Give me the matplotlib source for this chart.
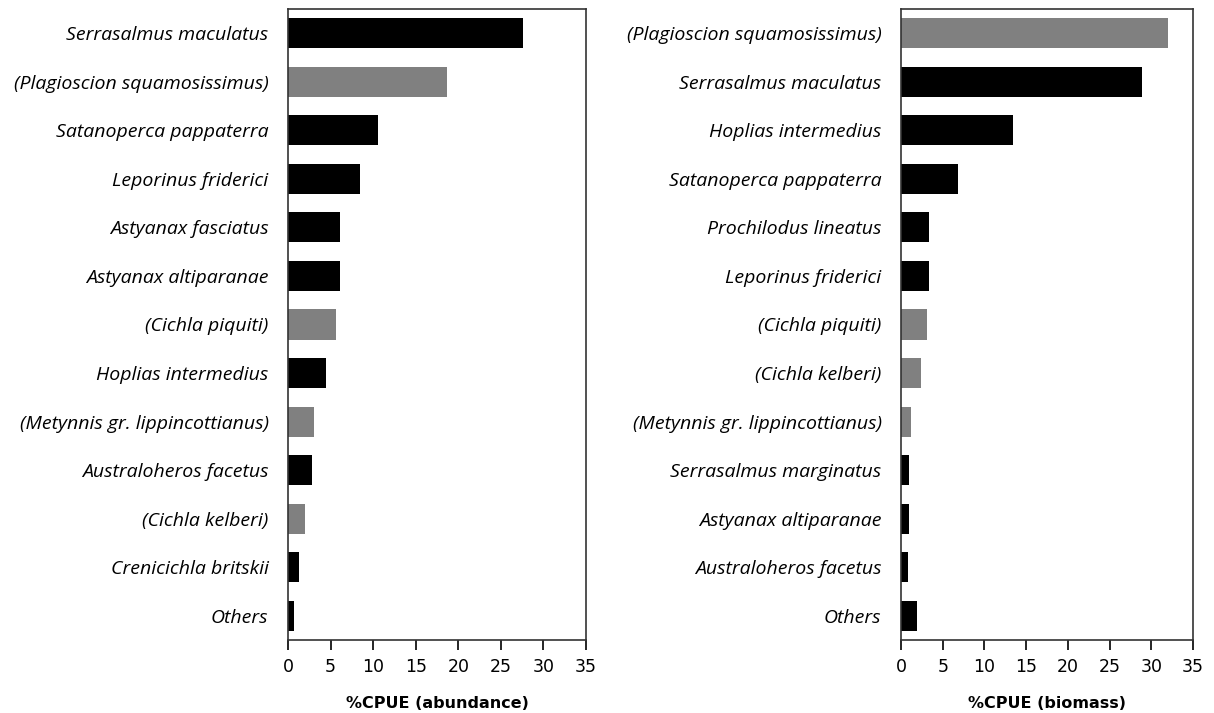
import matplotlib
import matplotlib.pyplot as plt

matplotlib.use("Agg")

BLACK = "#000000"
GREY = "#808080"

# Abundance panel (top to bottom)
abund_species = [
    "Serrasalmus maculatus", "(Plagioscion squamosissimus)", "Satanoperca pappaterra",
    "Leporinus friderici", "Astyanax fasciatus", "Astyanax altiparanae",
    "(Cichla piquiti)", "Hoplias intermedius", "(Metynnis gr. lippincottianus)",
    "Australoheros facetus", "(Cichla kelberi)", "Crenicichla britskii", "Others",
]
abund_values = [27.6, 18.7, 10.6, 8.5, 6.1, 6.1, 5.6, 4.5, 3.0, 2.8, 2.0, 1.3, 0.7]

# Biomass panel (top to bottom)
biom_species = [
    "(Plagioscion squamosissimus)", "Serrasalmus maculatus", "Hoplias intermedius",
    "Satanoperca pappaterra", "Prochilodus lineatus", "Leporinus friderici",
    "(Cichla piquiti)", "(Cichla kelberi)", "(Metynnis gr. lippincottianus)",
    "Serrasalmus marginatus", "Astyanax altiparanae", "Australoheros facetus", "Others",
]
biom_values = [32.0, 28.9, 13.4, 6.8, 3.4, 3.4, 3.1, 2.4, 1.2, 1.0, 0.9, 0.8, 1.9]

x_ticks = [0, 5, 10, 15, 20, 25, 30, 35]


def draw_panel(ax, species, values, xlabel):
    colors = [GREY if s.startswith("(") else BLACK for s in species]
    y = list(range(len(species)))
    ax.barh(y, values, height=0.62, color=colors)
    ax.set_ylim(len(species) - 0.5, -0.5)
    ax.set_xlim(0, 35)
    ax.set_xticks(x_ticks)
    ax.set_xticklabels([str(t) for t in x_ticks], fontsize=12.5, family="DejaVu Sans")
    ax.set_yticks(y)
    ax.set_yticklabels(species, fontsize=14, style="italic", family="Open Sans")
    ax.tick_params(axis="y", length=0, pad=14)
    ax.tick_params(axis="x", direction="out", length=7, width=1.2, pad=6)
    ax.set_xlabel(xlabel, fontsize=11.5, fontweight="bold", family="DejaVu Sans", labelpad=14)
    for sp in ax.spines.values():
        sp.set_linewidth(1.2)
        sp.set_color("#333333")


fig = plt.figure(figsize=(12.14, 7.13), dpi=100)
ax1 = fig.add_axes([288 / 1214, 1 - 640 / 713, 298 / 1214, 631 / 713])
ax2 = fig.add_axes([901 / 1214, 1 - 640 / 713, 292 / 1214, 631 / 713])

draw_panel(ax1, abund_species, abund_values, "%CPUE (abundance)")
draw_panel(ax2, biom_species, biom_values, "%CPUE (biomass)")

fig.savefig("out.png", dpi=100)
